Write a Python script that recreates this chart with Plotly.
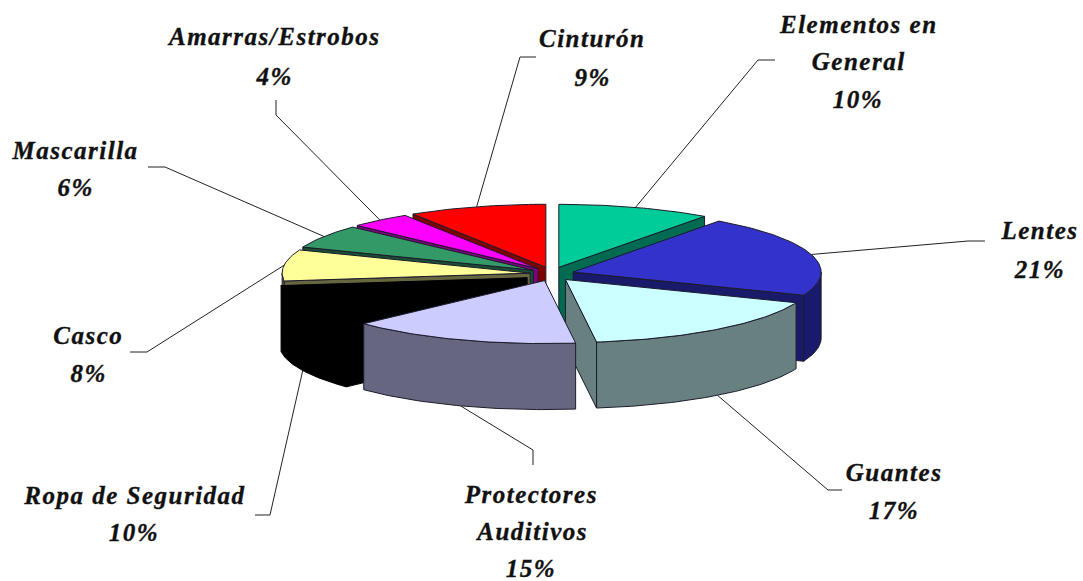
import math
import plotly.graph_objects as go

# ---- data ----
categories = ["Elementos en General", "Lentes", "Guantes", "Protectores Auditivos",
              "Ropa de Seguridad", "Casco", "Mascarilla", "Amarras/Estrobos", "Cinturón"]
values = [10, 21, 17, 15, 10, 8, 6, 4, 9]
label_lines = [["Elementos en", "General"], ["Lentes"], ["Guantes"], ["Protectores", "Auditivos"],
               ["Ropa de Seguridad"], ["Casco"], ["Mascarilla"], ["Amarras/Estrobos"], ["Cinturón"]]

# ---- style / layout ----
top_colors = ["#00CC99", "#3333CC", "#CCFFFF", "#CCCCFF", "#000000", "#FFFF99", "#339966", "#FF00FF", "#FF0000"]
wall_colors = ["#006B50", "#1A1A6B", "#688080", "#666680", "#000000", "#666640", "#1A4D33", "#800080", "#800000"]
edge_colors = ["#1c1c2c"] * 4 + ["#000000"] + ["#1c1c2c"] * 4
draw_order = [0, 8, 1, 7, 6, 5, 2, 4, 3]
explode = [1, 1, 1, 1, 1.25, 1, 1, 1, 1]
CX, CY, RX, RY, EX, EY, DEPTH = 552, 274, 248, 63, 22, 7, 66
# centre of each text line (x, first y, line step)
label_pos = [(858, 24, 37.5), (1039, 230, 39), (894, 472, 38), (531, 494, 37),
             (134, 495, 37), (88, 335, 38), (75, 150, 37), (274, 36, 40), (592, 38, 39)]
# leader elbows from the pie outwards
elbows = [[(758, 60), (775, 60)], [(968, 241), (985, 241)], [(828, 490), (842, 490)],
          [(533, 450), (533, 465)], [(270, 515), (255, 515)], [(147, 352), (130, 352)],
          [(165, 167), (148, 167)], [(276, 115), (276, 100)], [(520, 57), (536, 57)]]
FONT = dict(family="Liberation Serif", size=25, color="#111111", style="italic", weight="bold")

fig = go.Figure()


def poly(xs, ys, fill, edge):
    fig.add_trace(go.Scatter(x=xs + xs[:1], y=ys + ys[:1], mode="lines", fill="toself",
                             fillcolor=fill, line=dict(color=edge, width=1), hoverinfo="skip",
                             showlegend=False))


total = sum(values)
starts, c = [], 0
for v in values:
    starts.append(c / total * 360)
    c += v

geom = []
for i, v in enumerate(values):
    a0 = starts[i]
    a1 = a0 + v / total * 360
    mid = math.radians((a0 + a1) / 2)
    ax = CX + EX * explode[i] * math.sin(mid)
    ay = CY - EY * explode[i] * math.cos(mid)
    geom.append((a0, a1, ax, ay, mid))


def arc_pt(ax, ay, deg):
    r = math.radians(deg)
    return ax + RX * math.sin(r), ay - RY * math.cos(r)


# leader lines are drawn first, beneath the pie
for i in range(len(values)):
    a0, a1, ax, ay, mid = geom[i]
    px, py = arc_pt(ax, ay, math.degrees(mid))
    if math.cos(mid) < 0 and math.sin(mid) > -0.95:
        py += DEPTH
    fig.add_trace(go.Scatter(x=[px] + [e[0] for e in elbows[i]], y=[py] + [e[1] for e in elbows[i]],
                             mode="lines", line=dict(color="#222222", width=1), hoverinfo="skip",
                             showlegend=False))

for i in draw_order:
    a0, a1, ax, ay, mid = geom[i]
    n = max(4, int(a1 - a0))
    degs = [a0 + (a1 - a0) * k / n for k in range(n + 1)]
    pts = [arc_pt(ax, ay, d) for d in degs]
    edge = edge_colors[i]
    # cut walls
    if math.sin(math.radians(a0)) < 0:
        e = pts[0]
        poly([ax, e[0], e[0], ax], [ay, e[1], e[1] + DEPTH, ay + DEPTH], wall_colors[i], edge)
    if math.sin(math.radians(a1)) > 0:
        e = pts[-1]
        poly([ax, e[0], e[0], ax], [ay, e[1], e[1] + DEPTH, ay + DEPTH], wall_colors[i], edge)
    # outer wall: only the part facing the viewer
    lo, hi = max(a0, 90), min(a1, 270)
    if hi > lo:
        m = max(2, int(hi - lo))
        wd = [lo + (hi - lo) * k / m for k in range(m + 1)]
        wp = [arc_pt(ax, ay, d) for d in wd]
        poly([p[0] for p in wp] + [p[0] for p in reversed(wp)],
             [p[1] for p in wp] + [p[1] + DEPTH for p in reversed(wp)], wall_colors[i], edge)
    # top face
    poly([ax] + [p[0] for p in pts], [ay] + [p[1] for p in pts], top_colors[i], edge)

annotations = []
for i, lines in enumerate(label_lines):
    x, y, step = label_pos[i]
    for k, t in enumerate(lines + [f"{values[i]}%"]):
        annotations.append(dict(x=x, y=y + k * step, text=t, showarrow=False, xref="x", yref="y",
                                xanchor="center", yanchor="middle", font=FONT))

fig.update_layout(
    width=1083, height=581, margin=dict(l=0, r=0, t=0, b=0),
    paper_bgcolor="white", plot_bgcolor="white", showlegend=False,
    xaxis=dict(range=[0, 1083], visible=False, fixedrange=True),
    yaxis=dict(range=[581, 0], visible=False, fixedrange=True),
    annotations=annotations,
)
fig.write_html("out.html", config=dict(displayModeBar=False),
               post_script="document.body.style.margin='0';"
                           "var st=document.createElement('style');"
                           "st.textContent='.annotation-text{letter-spacing:1.5px;stroke:#111;stroke-width:.35px}';"
                           "document.head.appendChild(st);")
